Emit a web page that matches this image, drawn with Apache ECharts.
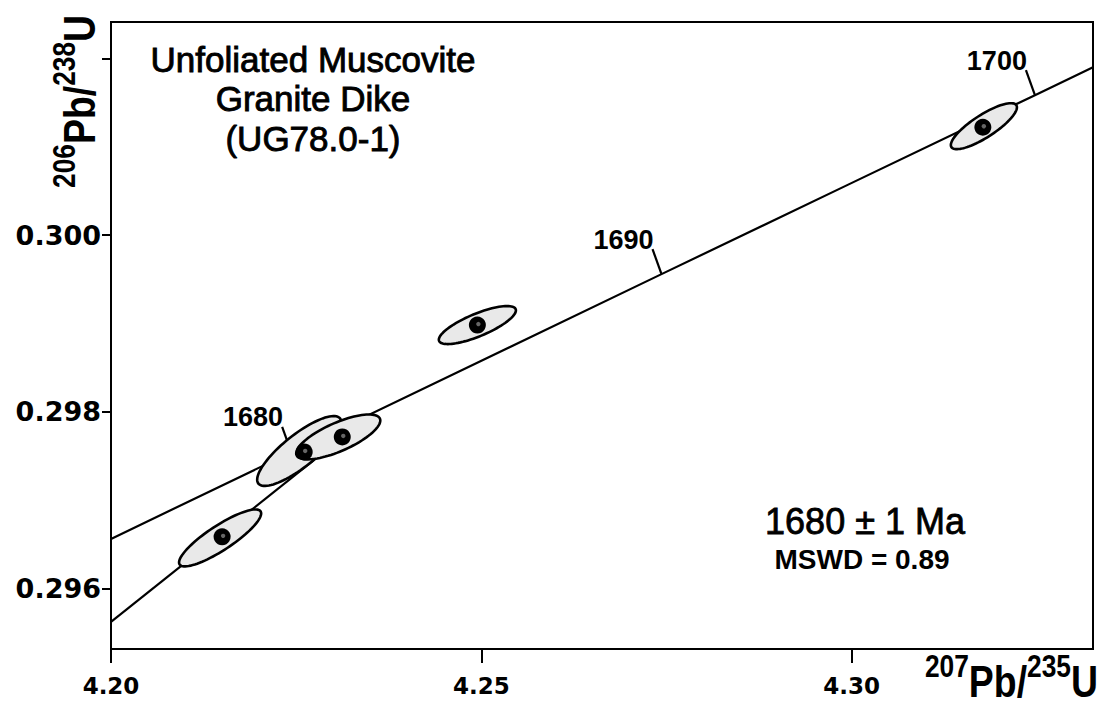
<!DOCTYPE html>
<html><head><meta charset="utf-8">
<script src="https://cdn.jsdelivr.net/npm/echarts@6/dist/echarts.min.js"></script>
<style>html,body{margin:0;padding:0;background:#fff}#c{width:1108px;height:709px}</style>
</head><body><div id="c"></div>
<script>
// ---- data ----
const xTicks = [4.20, 4.25, 4.30];
const yTicks = [0.296, 0.298, 0.300, 0.302];
const yLabelValues = [0.296, 0.298, 0.300];
const xRange = [4.20, 4.33257];
const yRange = [0.29532, 0.30241];

// concordia curve
const concordiaX = [4.2000, 4.27432, 4.32473, 4.33257];
const concordiaY = [0.296565, 0.299559, 0.301582, 0.301898];

// age marks on the concordia
const ageLabels = ['1680', '1690', '1700'];
const ageX = [4.22432, 4.27432, 4.32473];
const ageY = [0.297548, 0.299559, 0.301582];

// regression (discordia) line
const discX = [4.2000, 4.23216];
const discY = [0.295627, 0.297774];

// error ellipses: centre, half-width, half-height, correlation
const ellX   = [4.21473, 4.22541, 4.23068, 4.24946, 4.31784];
const ellY   = [0.296576, 0.297559, 0.297718, 0.298983, 0.301232];
const ellSX  = [0.005541, 0.005676, 0.005676, 0.005203, 0.004459];
const ellSY  = [0.000322, 0.000395, 0.000254, 0.000215, 0.000260];
const ellRho = [0.86, 0.82, 0.73, 0.77, 0.82];

// analysis points
const dotX = [4.21500, 4.22608, 4.23122, 4.24946, 4.31770];
const dotY = [0.296588, 0.297548, 0.297718, 0.298983, 0.301220];

// texts
const titleLines = ['Unfoliated Muscovite', 'Granite Dike', '(UG78.0-1)'];
const ageResult = '1680 \u00b1 1 Ma';
const mswdText = 'MSWD = 0.89';
const yTitleParts = [['206', true], ['Pb/', false], ['238', true], ['U', false]];
const xTitleParts = [['207', true], ['Pb/', false], ['235', true], ['U', false]];

// ---- build ----
const FONT = '"Liberation Sans", Arial, Helvetica, sans-serif';
const WIDE = '"DejaVu Sans", "Liberation Sans", sans-serif';
const MAIN_FONT = 'bold 44px ' + FONT;
const SUP_FONT = 'bold 31px ' + FONT;
const mctx = document.createElement('canvas').getContext('2d');
function tw(t, f) { mctx.font = f; return mctx.measureText(t).width; }
function titleChildren(parts) {
  let x = 0; const kids = [];
  parts.forEach(([t, sup]) => {
    const f = sup ? SUP_FONT : MAIN_FONT;
    kids.push({type: 'text', x: x, y: sup ? -16 : 0,
      style: {text: t, font: f, fill: '#000', textAlign: 'left', textVerticalAlign: 'middle', align: 'left', verticalAlign: 'middle'}});
    x += tw(t, f);
  });
  return {kids, width: x};
}
const yT = titleChildren(yTitleParts);
const xT = titleChildren(xTitleParts);
const TSCALE = 0.85;

function txt(x, y, text, font, heavy) {
  const st = {text, font, fill: '#000',
    textAlign: 'center', textVerticalAlign: 'middle', align: 'center', verticalAlign: 'middle'};
  if (heavy) { st.stroke = '#000'; st.lineWidth = heavy; }
  return {type: 'text', x, y, style: st};
}

const ellData = ellX.map((v, i) => [v, ellY[i], ellSX[i], ellSY[i], ellRho[i]]);

const chart = echarts.init(document.getElementById('c'), null, {renderer: 'svg', width: 1108, height: 709});
chart.setOption({
  animation: false,
  backgroundColor: '#fff',
  grid: {left: 111, right: 15, top: 22, bottom: 60, show: true, borderColor: '#000', borderWidth: 2, backgroundColor: 'transparent'},
  xAxis: {
    type: 'value', min: xRange[0], max: xRange[1],
    axisLine: {show: true, onZero: false, lineStyle: {color: '#000', width: 2}},
    splitLine: {show: false},
    axisTick: {show: true, length: 14, lineStyle: {color: '#000', width: 2}, customValues: xTicks},
    axisLabel: {customValues: xTicks, formatter: v => v.toFixed(2), color: '#000', fontSize: 23, fontWeight: 'bold', fontFamily: WIDE, margin: 25}
  },
  yAxis: {
    type: 'value', min: yRange[0], max: yRange[1],
    axisLine: {show: true, onZero: false, lineStyle: {color: '#000', width: 2}},
    splitLine: {show: false},
    axisTick: {show: true, length: 9, lineStyle: {color: '#000', width: 2}, customValues: yTicks},
    axisLabel: {customValues: yLabelValues, formatter: v => v.toFixed(3), color: '#000', fontSize: 27, fontWeight: 'bold', fontFamily: WIDE, margin: 10}
  },
  series: [
    {type: 'line', z: 2, data: concordiaX.map((v, i) => [v, concordiaY[i]]), showSymbol: false, smooth: true,
     lineStyle: {color: '#000', width: 2.2}, silent: true},
    {type: 'line', z: 2, data: discX.map((v, i) => [v, discY[i]]), showSymbol: false,
     lineStyle: {color: '#000', width: 2.2}, silent: true},
    {type: 'custom', z: 3, data: ageX.map((v, i) => [v, ageY[i]]), silent: true,
     renderItem: function (params, api) {
       const p = api.coord([api.value(0), api.value(1)]);
       const tx = p[0] - 9, ty = p[1] - 25;
       return {type: 'group', children: [
         {type: 'line', shape: {x1: p[0], y1: p[1], x2: tx, y2: ty}, style: {stroke: '#000', lineWidth: 2.2}},
         {type: 'text', x: tx + 1, y: ty + 4, style: {text: ageLabels[params.dataIndex], font: 'bold 27px ' + FONT, fill: '#000',
           textAlign: 'right', textVerticalAlign: 'bottom', align: 'right', verticalAlign: 'bottom'}}
       ]};
     }},
    {type: 'custom', z: 4, data: ellData, silent: true,
     renderItem: function (params, api) {
       const cx = api.value(0), cy = api.value(1), sx = api.value(2), sy = api.value(3), r = api.value(4);
       const q = Math.sqrt(1 - r * r);
       const pts = [];
       for (let k = 0; k < 90; k++) {
         const t = k / 90 * Math.PI * 2;
         pts.push(api.coord([cx + sx * Math.cos(t), cy + sy * (r * Math.cos(t) + q * Math.sin(t))]));
       }
       return {type: 'polygon', shape: {points: pts}, style: {fill: '#e9e9e9', stroke: '#000', lineWidth: 2.6}};
     }},
    {type: 'custom', z: 5, data: dotX.map((v, i) => [v, dotY[i]]), silent: true,
     renderItem: function (params, api) {
       const d = api.coord([api.value(0), api.value(1)]);
       return {type: 'group', children: [
         {type: 'circle', shape: {cx: d[0], cy: d[1], r: 8.5}, style: {fill: '#000'}},
         {type: 'circle', shape: {cx: d[0] + 1, cy: d[1] - 1, r: 2.2}, style: {fill: '#666'}}
       ]};
     }}
  ],
  graphic: [
    txt(313, 59, titleLines[0], '35px ' + FONT, 0.9),
    txt(313, 98, titleLines[1], '35px ' + FONT, 0.9),
    txt(313, 138, titleLines[2], '35px ' + FONT, 0.9),
    txt(865, 521, ageResult, '36px ' + FONT, 0.8),
    txt(862, 559, mswdText, 'bold 28px ' + FONT),
    {type: 'group', x: 80, y: 188, rotation: Math.PI / 2, scaleX: TSCALE, children: yT.kids},
    {type: 'group', x: 1098 - xT.width * TSCALE, y: 682, scaleX: TSCALE, children: xT.kids}
  ]
});
</script>
</body></html>
